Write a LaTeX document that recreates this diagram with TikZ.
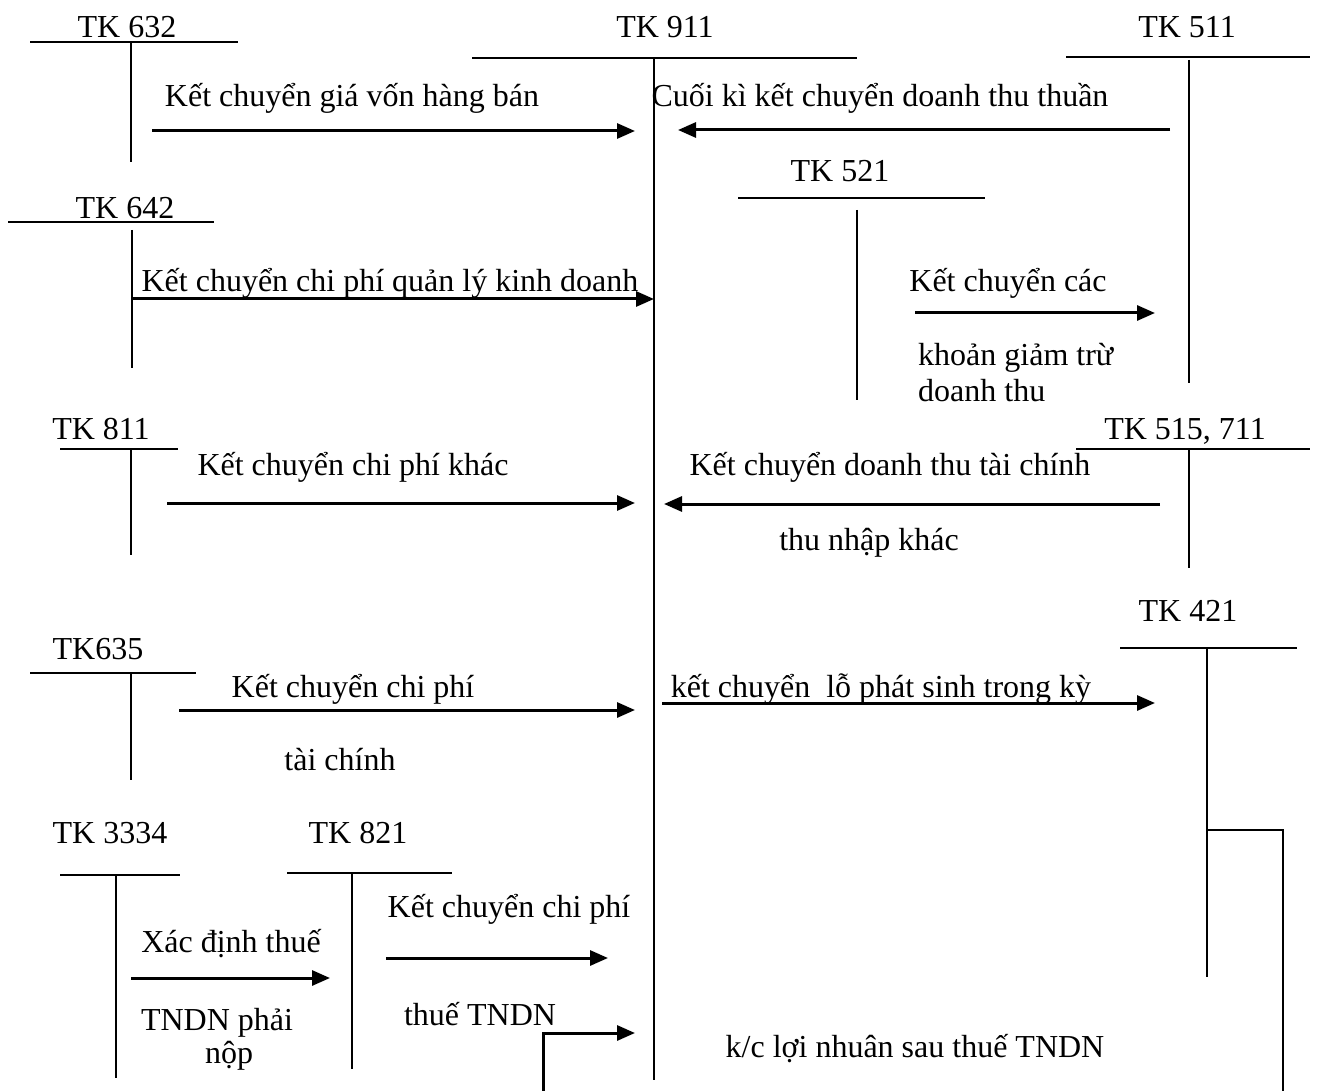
\documentclass[tikz,border=0pt]{standalone}
\usepackage{fontspec}
\setmainfont{Liberation Serif}
\usetikzlibrary{arrows.meta}
\tikzset{
  kc/.style={
    line width=3pt,
    -{Triangle[length=18pt,width=15pt]}
  },
  tline/.style={line width=2pt},
  tk/.style={anchor=base, inner sep=0pt},
  txt/.style={anchor=base, inner sep=0pt},
  txtl/.style={anchor=base west, inner sep=0pt}
}

\begin{document}
\begin{tikzpicture}[x=1pt, y=-1pt, every node/.style={font=\fontsize{32}{38}\selectfont}]
\useasboundingbox (0,0) rectangle (1317,1091);

% account names
\node[tk] (T632) at (127,38) {TK 632};
\node[tk] (T911) at (665,38) {TK 911};
\node[tk] (T511) at (1187,38) {TK 511};
\node[tk] (T521) at (840,182) {TK 521};
\node[tk] (T642) at (125,219) {TK 642};
\node[tk] (T811) at (101,439) {TK 811};
\node[tk] (T515) at (1185,439) {TK 515, 711};
\node[tk] (T421) at (1188,621) {TK 421};
\node[tk] (T635) at (98,659) {TK635};
\node[tk] (T3334) at (110,843) {TK 3334};
\node[tk] (T821) at (358,843) {TK 821};

% T-accounts
\draw[tline] (30,42) -- (238,42) (131,42) -- (131,162);
\draw[tline] (472,58) -- (857,58) (654,58) -- (654,1080);
\draw[tline] (1066,57) -- (1310,57) (1189,60) -- (1189,383);
\draw[tline] (738,198) -- (985,198) (857,210) -- (857,400);
\draw[tline] (8,222) -- (214,222) (132,230) -- (132,368);
\draw[tline] (60,449) -- (178,449) (131,449) -- (131,555);
\draw[tline] (1076,449) -- (1310,449) (1189,449) -- (1189,568);
\draw[tline] (1120,648) -- (1297,648) (1207,648) -- (1207,977);
\draw[tline] (30,673) -- (196,673) (131,673) -- (131,780);
\draw[tline] (60,875) -- (180,875) (116,875) -- (116,1078);
\draw[tline] (287,873) -- (452,873) (352,873) -- (352,1069);

% arrow ends
\coordinate (a1s) at (152,131);  \coordinate (a1e) at (635,131);
\coordinate (a2s) at (1170,130); \coordinate (a2e) at (678,130);
\coordinate (a3s) at (132,299);  \coordinate (a3e) at (654,299);
\coordinate (a4s) at (915,313);  \coordinate (a4e) at (1155,313);
\coordinate (a5s) at (167,503);  \coordinate (a5e) at (635,503);
\coordinate (a6s) at (1160,504); \coordinate (a6e) at (664,504);
\coordinate (a7s) at (179,710);  \coordinate (a7e) at (635,710);
\coordinate (a8s) at (662,703);  \coordinate (a8e) at (1155,703);
\coordinate (a9s) at (131,978);  \coordinate (a9e) at (330,978);
\coordinate (a10s) at (386,958); \coordinate (a10e) at (608,958);
\coordinate (a11s) at (543,1091); \coordinate (a11e) at (635,1033);
\coordinate (a12s) at (1207,830); \coordinate (a12e) at (1283,1091);

% labels
\node[txt] (L1) at (352,107) {Kết chuyển giá vốn hàng bán};
\node[txt] (L2) at (880,107) {Cuối kì kết chuyển doanh thu thuần};
\node[txt] (L3) at (390,291) {Kết chuyển chi phí quản lý kinh doanh};
\node[txt] (L4) at (1008,292) {Kết chuyển các};
\node[txtl] (L4b) at (918,365) {khoản giảm trừ};
\node[txtl] (L4c) at (918,401) {doanh thu};
\node[txt] (L5) at (353,475) {Kết chuyển chi phí khác};
\node[txt] (L6) at (890,475) {Kết chuyển doanh thu tài chính};
\node[txt] (L6b) at (869,550) {thu nhập khác};
\node[txt] (L7) at (353,697) {Kết chuyển chi phí};
\node[txt] (L7b) at (340,770) {tài chính};
\node[txt] (L8) at (881,697) {kết chuyển\ \ lỗ phát sinh trong kỳ};
\node[txt] (L9) at (231,952) {Xác định thuế};
\node[txt] (L9b) at (217,1030) {TNDN phải};
\node[txt] (L9c) at (229,1063) {nộp};
\node[txt] (L10) at (509,917) {Kết chuyển chi phí};
\node[txt] (L10b) at (480,1025) {thuế TNDN};
\node[txt] (L11) at (915,1057) {k/c lợi nhuân sau thuế TNDN};

% connectors
\path (a1s) edge[kc] (a1e)
      (a2s) edge[kc] (a2e)
      (a3s) edge[kc] (a3e)
      (a4s) edge[kc] (a4e)
      (a5s) edge[kc] (a5e)
      (a6s) edge[kc] (a6e)
      (a7s) edge[kc] (a7e)
      (a8s) edge[kc] (a8e)
      (a9s) edge[kc] (a9e)
      (a10s) edge[kc] (a10e);
\draw[kc] (a11s) |- (a11e);
\draw[tline] (a12s) -| (a12e);
\end{tikzpicture}
\end{document}
